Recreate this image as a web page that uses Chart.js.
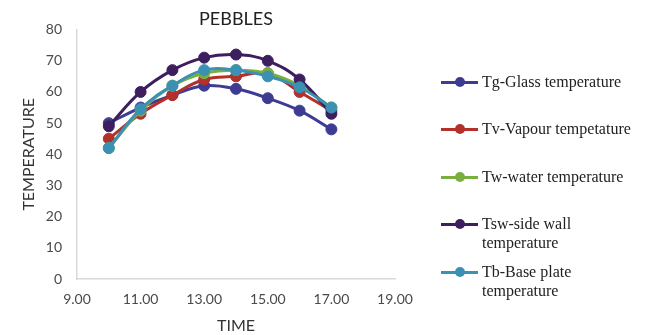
<!DOCTYPE html>
<html>
<head>
<meta charset="utf-8">
<script src="https://cdn.jsdelivr.net/npm/chart.js@4/dist/chart.umd.min.js"></script>
<style>
  html, body { margin: 0; padding: 0; background: #fff; }
  #wrap { position: relative; width: 648px; height: 335px; }
  #legend {
    position: absolute; left: 441px; top: 0; width: 207px;
    font-family: "Liberation Serif", "Times New Roman", serif;
    font-size: 16px; color: #222;
  }
  .item { position: absolute; left: 0; line-height: 19px; }
  .swatch { position: absolute; left: 0; top: 9px; width: 37px; height: 3px; }
  .dot { position: absolute; left: 14px; top: 5px; width: 10px; height: 10px; border-radius: 50%; }
  .text { position: absolute; left: 41px; top: 0; white-space: nowrap; }
</style>
</head>
<body>
<div id="wrap">
  <canvas id="chart" width="648" height="335"></canvas>
  <div id="legend"></div>
</div>
<script>
const times = [10, 11, 12, 13, 14, 15, 16, 17];
const xTicks = [9, 11, 13, 15, 17, 19];

const seriesNames = [
  ["Tg-Glass temperature"],
  ["Tv-Vapour tempetature"],
  ["Tw-water temperature"],
  ["Tsw-side wall", "temperature"],
  ["Tb-Base plate", "temperature"]
];
const seriesColors = ["#3E3B93", "#B3302B", "#7BAE40", "#3D1F5F", "#3A91B4"];

const tg  = [50, 55, 59, 62, 61, 58, 54, 48];
const tv  = [45, 53, 59, 64, 65, 66, 60, 54];
const tw  = [42, 54, 62, 66, 67, 66, 62, 55];
const tsw = [49, 60, 67, 71, 72, 70, 64, 53];
const tb  = [42, 54.5, 62, 67, 67, 65, 61.5, 55];
const seriesValues = [tg, tv, tw, tsw, tb];

// legend rows: top of first text line for each entry
const legendTops = [72, 119, 167, 214, 262];

const datasets = seriesValues.map((vals, i) => ({
  label: seriesNames[i].join(" "),
  data: vals.map((v, j) => ({ x: times[j], y: v })),
  borderColor: seriesColors[i],
  backgroundColor: seriesColors[i],
  borderWidth: 3,
  pointRadius: 5.5,
  pointBorderWidth: 1,
  tension: 0.4,
  order: seriesValues.length - 1 - i
}));

const tickFont = { family: "Lato", size: 14 };

new Chart(document.getElementById("chart"), {
  type: "line",
  data: { datasets },
  options: {
    responsive: false,
    animation: false,
    devicePixelRatio: 1,
    layout: { padding: { left: 0, right: 253, top: 0, bottom: 0 } },
    plugins: {
      legend: { display: false },
      tooltip: { enabled: false },
      title: {
        display: true,
        text: "PEBBLES",
        fullSize: false,
        color: "#222",
        font: { family: "Lato", size: 18, weight: "normal" },
        padding: { top: 8, bottom: 0 }
      }
    },
    scales: {
      x: {
        type: "linear",
        min: 9,
        max: 19,
        afterBuildTicks: axis => { axis.ticks = xTicks.map(v => ({ value: v })); },
        afterFit: axis => { axis.height = 56; },
        grid: { display: false, drawTicks: false },
        border: { color: "#d9d9d9", width: 1.5 },
        ticks: {
          color: "#4a4a4a",
          font: tickFont,
          padding: 12,
          maxRotation: 0,
          callback: v => v.toFixed(2)
        },
        title: {
          display: true,
          text: "TIME",
          color: "#333",
          font: { family: "Lato", size: 16 },
          padding: { top: 0, bottom: 0 }
        }
      },
      y: {
        min: 0,
        max: 80,
        afterFit: axis => { axis.width = 77; },
        grid: { display: false, drawTicks: false },
        border: { color: "#d9d9d9", width: 1.5 },
        ticks: { stepSize: 10, color: "#4a4a4a", font: tickFont, padding: 15 },
        title: {
          display: true,
          text: "TEMPERATURE",
          color: "#333",
          font: { family: "Lato", size: 16 },
          padding: { top: 19, bottom: 0 }
        }
      }
    }
  }
});

// legend built from the same series names and colours
const legend = document.getElementById("legend");
seriesNames.forEach((lines, i) => {
  const item = document.createElement("div");
  item.className = "item";
  item.style.top = legendTops[i] + "px";
  item.innerHTML =
    `<span class="swatch" style="background:${seriesColors[i]}"></span>` +
    `<span class="dot" style="background:${seriesColors[i]}"></span>` +
    `<span class="text">${lines.join("<br>")}</span>`;
  legend.appendChild(item);
});
</script>
</body>
</html>
